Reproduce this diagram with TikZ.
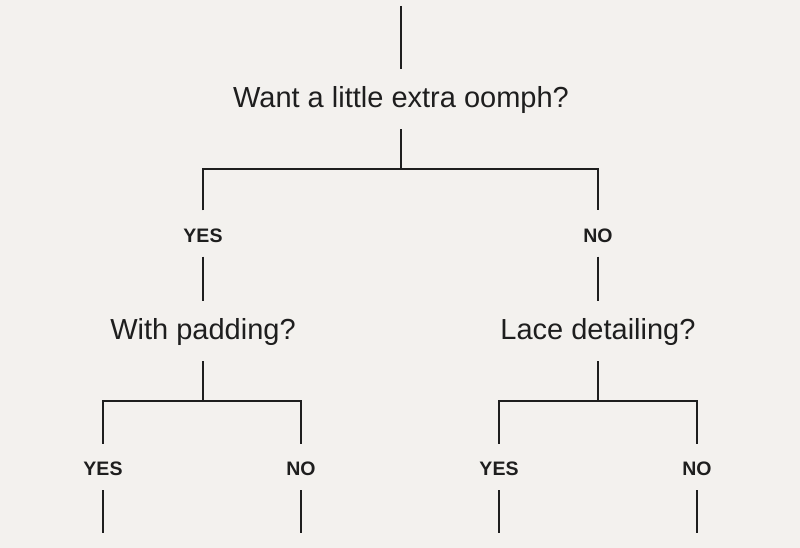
\documentclass[tikz,border=0pt]{standalone}
\usepackage{fontspec}
\setmainfont{Liberation Sans}
\definecolor{paper}{HTML}{F3F1EE}
\definecolor{ink}{HTML}{1E1E1E}

\begin{document}
\begin{tikzpicture}[x=1pt, y=-1pt,
  question/.style={font=\fontsize{29}{31}\selectfont, text=ink, inner sep=0pt,
    text height=23pt, text depth=6pt, minimum height=60pt},
  answer/.style={font=\fontsize{19.5}{21}\selectfont\bfseries, text=ink, inner sep=0pt,
    text height=17pt, text depth=0pt, minimum height=46pt},
  branch/.style={draw=ink, line width=1.2pt}]
% sfondo
\fill[paper] (0,0) rectangle (800,548);
\useasboundingbox (0,0) rectangle (800,548);
% domanda principale
\coordinate (start) at (401,6);
\node[question] (q1) at (401,99) {Want a little extra oomph?};
\coordinate (j1) at (401,169);
\node[answer] (yes1) at (203,233.5) {YES};
\node[answer] (no1) at (598,233.5) {NO};
\draw[branch] (start) -- (q1.north);
\draw[branch] (q1.south) -- (j1);
\draw[branch] (yes1.north) |- (j1) -| (no1.north);
% secondo livello
\node[question] (q2) at (203,331) {With padding?};
\node[question] (q3) at (598,331) {Lace detailing?};
\draw[branch] (yes1.south) -- (q2.north);
\draw[branch] (no1.south) -- (q3.north);
\coordinate (j2) at (203,401);
\coordinate (j3) at (598,401);
\draw[branch] (q2.south) -- (j2);
\draw[branch] (q3.south) -- (j3);
% risposte finali
\foreach \n/\xi/\lab/\j in {yes2/103/YES/j2, no2/301/NO/j2, yes3/499/YES/j3, no3/697/NO/j3}{
  \node[answer] (\n) at (\xi,467) {\lab};
  \coordinate (\n end) at (\xi,533);
  \draw[branch] (\j) -| (\n.north);
  \draw[branch] (\n.south) -- (\n end);
}
\end{tikzpicture}
\end{document}
